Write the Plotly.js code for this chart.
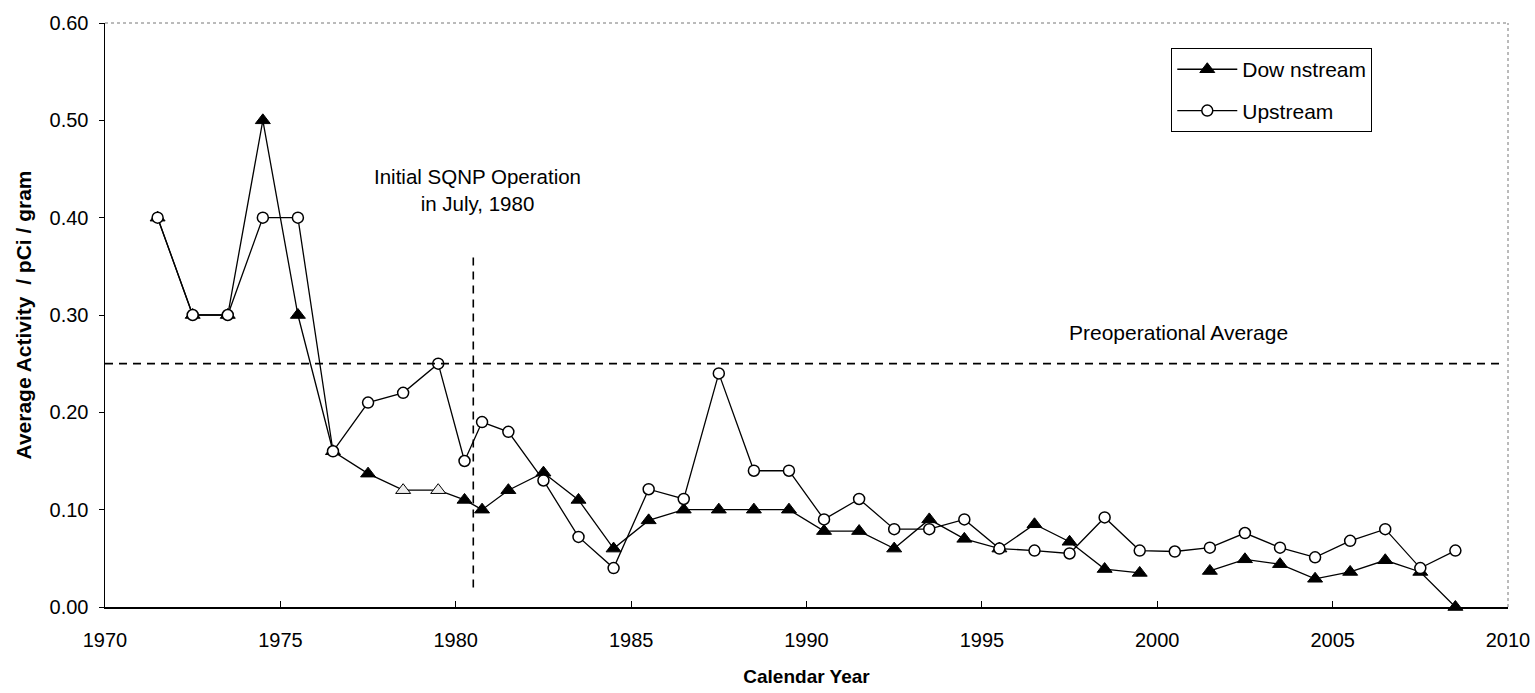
<!DOCTYPE html>
<html>
<head>
<meta charset="utf-8">
<script src="https://cdn.plot.ly/plotly-3.0.1.min.js"></script>
<style>html,body{margin:0;padding:0;background:#fff;}#chart{width:1535px;height:693px;}</style>
</head>
<body>
<div id="chart"></div>
<script>
var years = [1971.5,1972.5,1973.5,1974.5,1975.5,1976.5,1977.5,1978.5,1979.5,1980.25,1980.75,
  1981.5,1982.5,1983.5,1984.5,1985.5,1986.5,1987.5,1988.5,1989.5,1990.5,1991.5,1992.5,1993.5,
  1994.5,1995.5,1996.5,1997.5,1998.5,1999.5,2000.5,2001.5,2002.5,2003.5,2004.5,2005.5,2006.5,2007.5,2008.5];
var downstream = [0.40,0.30,0.30,0.50,0.30,0.16,0.137,0.12,0.12,0.11,0.10,
  0.12,0.138,0.11,0.06,0.089,0.10,0.10,0.10,0.10,0.078,0.078,0.06,0.09,
  0.07,0.06,0.085,0.067,0.039,0.035,null,0.037,0.049,0.044,0.029,0.036,0.048,0.036,0.0];
var upstream = [0.40,0.30,0.30,0.40,0.40,0.16,0.21,0.22,0.25,0.15,0.19,
  0.18,0.13,0.072,0.04,0.121,0.111,0.24,0.14,0.14,0.09,0.111,0.08,0.08,
  0.09,0.06,0.058,0.055,0.092,0.058,0.057,0.061,0.076,0.061,0.051,0.068,0.080,0.040,0.058];
var preopAverage = 0.25;
var startupYear = 1980.5;
var xTicks = [1970,1975,1980,1985,1990,1995,2000,2005,2010];
var yTicks = [0,0.1,0.2,0.3,0.4,0.5,0.6];

var font = 'Arial, "Liberation Sans", sans-serif';
var triColors = years.map(function(yr){ return (yr===1978.5||yr===1979.5) ? '#eeeeee' : '#000000'; });

var traces = [
  {x: years, y: downstream, name: 'Dow nstream', legendgroup: 'd', mode: 'lines+markers', connectgaps: false,
   line: {color: '#000', width: 1.3},
   marker: {symbol: 'triangle-up', size: 13, color: triColors, line: {color: '#000', width: 1}},
   cliponaxis: false},
  {x: years, y: upstream, name: 'Upstream', legendgroup: 'u', mode: 'lines+markers',
   line: {color: '#000', width: 1.3},
   marker: {symbol: 'circle', size: 11, color: '#fff', line: {color: '#000', width: 1.5}},
   cliponaxis: false}
];

var layout = {
  width: 1535, height: 693,
  margin: {l: 105, r: 27, t: 23, b: 86},
  paper_bgcolor: '#fff', plot_bgcolor: '#fff',
  font: {family: font, color: '#000', size: 20},
  showlegend: true,
  legend: {x: 0.760, y: 0.957, xanchor: 'left', yanchor: 'top',
    bordercolor: '#000', borderwidth: 1, bgcolor: '#fff',
    font: {family: font, size: 21}, itemwidth: 60, tracegroupgap: 11},
  xaxis: {range: [1970, 2010], tickvals: xTicks, ticktext: xTicks.map(String),
    showgrid: false, zeroline: false, showline: true, linecolor: '#000', linewidth: 1.5,
    ticks: 'inside', ticklen: 6, tickcolor: '#000', tickfont: {size: 20}, ticklabelstandoff: 14,
    title: {text: '<b>Calendar Year</b>', font: {size: 19}, standoff: 20}},
  yaxis: {range: [0, 0.6], tickvals: yTicks, tickformat: '.2f',
    showgrid: false, zeroline: false, showline: true, linecolor: '#000', linewidth: 1.5,
    ticks: 'outside', ticklen: 5, tickcolor: '#000', tickfont: {size: 20}, ticklabelstandoff: 6,
    title: {text: '<b>Average Activity  / pCi / gram</b>', font: {size: 21}, standoff: 12}},
  shapes: [
    {type: 'line', xref: 'paper', yref: 'paper', x0: 0, x1: 1, y0: 1, y1: 1, line: {color: '#777', width: 1, dash: 'dot'}},
    {type: 'line', xref: 'paper', yref: 'paper', x0: 1, x1: 1, y0: 0, y1: 1, line: {color: '#777', width: 1, dash: 'dot'}},
    {type: 'line', xref: 'x', yref: 'y', x0: 1970, x1: 2009.9, y0: preopAverage, y1: preopAverage, line: {color: '#000', width: 1.6, dash: '8px,6px'}},
    {type: 'line', xref: 'x', yref: 'y', x0: startupYear, x1: startupYear, y0: 0.02, y1: 0.365, line: {color: '#000', width: 1.6, dash: '8px,6px'}}
  ],
  annotations: [
    {xref: 'x', yref: 'y', x: 1980.63, y: 0.428, text: 'Initial SQNP Operation<br>in July, 1980', showarrow: false,
     font: {size: 20.5}, align: 'center'},
    {xref: 'x', yref: 'y', x: 2000.6, y: 0.282, text: 'Preoperational Average', showarrow: false, font: {size: 21}}
  ]
};

Plotly.newPlot('chart', traces, layout, {displayModeBar: false, staticPlot: true});
</script>
</body>
</html>
